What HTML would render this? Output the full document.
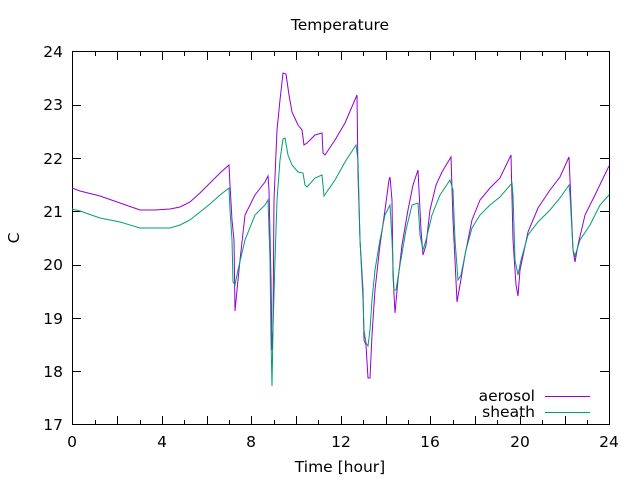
<!DOCTYPE html>
<html><head><meta charset="utf-8"><style>
body{margin:0;background:#fff}
svg{display:block;font-family:"DejaVu Sans","Liberation Sans",sans-serif}
text{font-size:15.5px;fill:#000}
</style></head><body>
<svg width="640" height="480" viewBox="0 0 640 480">
<rect width="640" height="480" fill="#fff"/>
<g stroke="#000" stroke-width="1" fill="none">
<rect x="72.5" y="51.5" width="537" height="373"/>
<path d="M72 105.5h9M600 105.5h9M72 158.5h9M600 158.5h9M72 211.5h9M600 211.5h9M72 265.5h9M600 265.5h9M72 318.5h9M600 318.5h9M72 371.5h9M600 371.5h9"/>
<path d="M117.5 425v-9M117.5 51v9M162.5 425v-9M162.5 51v9M207.5 425v-9M207.5 51v9M251.5 425v-9M251.5 51v9M296.5 425v-9M296.5 51v9M341.5 425v-9M341.5 51v9M386.5 425v-9M386.5 51v9M430.5 425v-9M430.5 51v9M475.5 425v-9M475.5 51v9M520.5 425v-9M520.5 51v9M565.5 425v-9M565.5 51v9"/>
<path d="M95.5 425v-5M95.5 51v5M140.5 425v-5M140.5 51v5M184.5 425v-5M184.5 51v5M229.5 425v-5M229.5 51v5M274.5 425v-5M274.5 51v5M318.5 425v-5M318.5 51v5M363.5 425v-5M363.5 51v5M408.5 425v-5M408.5 51v5M453.5 425v-5M453.5 51v5M497.5 425v-5M497.5 51v5M542.5 425v-5M542.5 51v5M587.5 425v-5M587.5 51v5"/>
</g>
<g text-anchor="end">
<text x="63" y="57">24</text><text x="63" y="110">23</text><text x="63" y="164">22</text><text x="63" y="217">21</text><text x="63" y="270">20</text><text x="63" y="324">19</text><text x="63" y="377">18</text><text x="63" y="430">17</text>
</g>
<g text-anchor="middle">
<text x="72" y="447">0</text><text x="162" y="447">4</text><text x="251" y="447">8</text><text x="341" y="447">12</text><text x="430" y="447">16</text><text x="520" y="447">20</text><text x="609" y="447">24</text>
<text x="340" y="30">Temperature</text>
<text x="340" y="472">Time [hour]</text>
<text x="0" y="0" transform="translate(19,238) rotate(-90)">C</text>
</g>
<polyline fill="none" stroke="#9400d3" stroke-width="1" points="72,188 80,191 100,196 120,203 140,210 155,210 170,209 180,207 190,202 200,193 210,183 220,173 229,165 230,185 232,220 234,240 235,311 237,290 240,260 245,215 255,195 265,182 268,176 269,190 271,280 272,350 273,330 274,200 277,130 280,100 283,73 286,74 289,95 292,112 298,125 302,130 304,145 307,143 315,135 322,133 323,153 325,155 335,140 345,123 357,95 358,175 360,240 363,290 364,340 366,345 368,378 370,378 372,335 375,290 380,245 385,210 389,180 390,177 392,200 393,275 395,313 398,280 402,245 408,210 413,185 418,170 419,190 421,230 423,255 426,245 430,210 436,185 442,172 448,162 451,157 453,220 455,260 457,302 460,285 465,255 472,220 480,200 490,188 500,178 511,155 513,240 516,285 518,296 520,270 528,232 538,208 550,190 560,177 569,157 570,180 573,250 575,262 578,245 585,215 595,195 609,166"/>
<polyline fill="none" stroke="#009e73" stroke-width="1" points="72,209 80,211 100,218 120,222 140,228 155,228 170,228 180,225 190,220 200,212 210,204 220,195 229,188 230,210 232,240 233,282 235,285 238,270 245,240 255,215 265,205 268,200 270,260 271,340 272,386 273,330 275,260 277,200 280,160 283,139 285,138 288,155 292,165 298,172 303,173 305,185 307,187 315,178 322,175 324,196 326,193 335,180 345,162 356,145 358,160 360,240 363,300 364,330 366,343 368,346 370,330 372,300 375,270 380,240 385,215 390,205 392,240 394,290 396,290 400,265 406,230 412,205 418,203 420,235 423,250 426,240 432,215 440,195 450,180 453,190 455,240 458,280 461,275 466,250 472,228 480,215 490,205 500,197 512,183 513,195 515,260 518,275 521,260 528,235 538,222 550,210 560,198 569,185 570,195 573,250 575,256 580,240 590,225 600,205 609,195"/>
<g text-anchor="end">
<text x="535" y="401">aerosol</text>
<text x="535" y="417">sheath</text>
</g>
<path d="M545 396.5h45" stroke="#9400d3"/>
<path d="M545 412.5h45" stroke="#009e73"/>
</svg>
</body></html>
